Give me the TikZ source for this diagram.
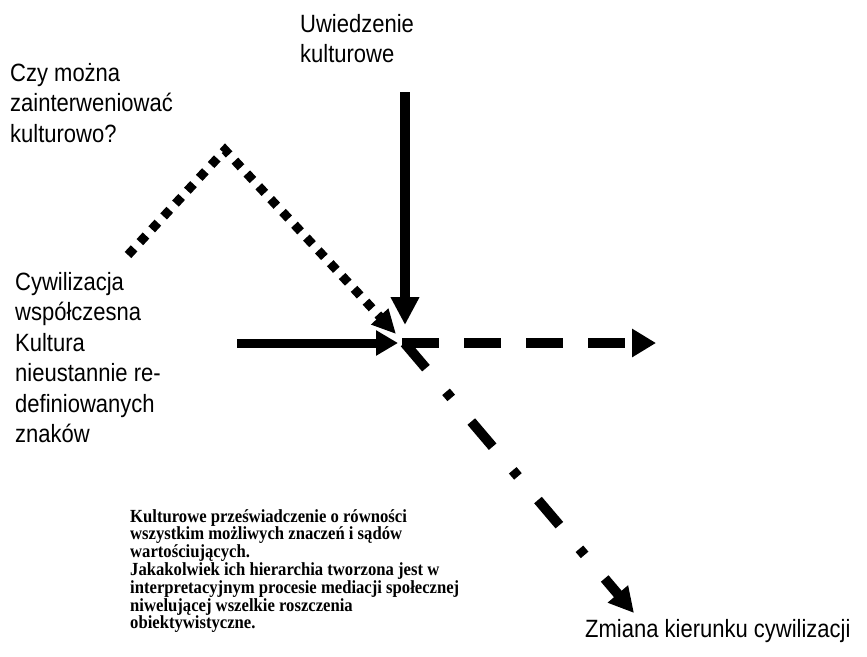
\documentclass[tikz,border=0pt]{standalone}
\usepackage{fontspec}
\setmainfont{Liberation Sans}[FakeStretch=0.88]
\newfontfamily\serifbold{Liberation Serif}[FakeStretch=0.9]
\usetikzlibrary{arrows.meta}
\begin{document}
\begin{tikzpicture}[x=1pt,y=-1pt,
  lab/.style={inner sep=0pt, anchor=north west, align=left,
    font=\fontsize{25}{30.5}\selectfont},
  note/.style={inner sep=0pt, anchor=north west, align=left,
    font=\serifbold\bfseries\fontsize{18.5}{16.6}\selectfont},
  solidarrow/.style={line width=10pt, -{Triangle[length=28pt,width=27pt]}},
  dasharrow/.style={line width=10pt, dash pattern=on 37pt off 25pt,
    -{Triangle[length=24pt,width=27pt]}},
  dotarrow/.style={line width=9pt, dash pattern=on 9pt off 8.5pt, line join=miter,
    -{Triangle[length=24pt,width=22pt]}},
  dashdotarrow/.style={line width=10pt, dash pattern=on 33pt off 31pt on 8pt off 31pt,
    dash phase=99pt, -{Triangle[length=25pt,width=25pt]}},
]
\useasboundingbox (0,0) rectangle (867,656);

% texts
\node[lab] (uw) at (300,14) {Uwiedzenie\\kulturowe};
\node[lab] (czy) at (10,63) {Czy można\\zainterweniować\\kulturowo?};
\node[lab] (cyw) at (15,272) {Cywilizacja\\współczesna\\Kultura\\nieustannie re-\\definiowanych\\znaków};
\node[lab] (zm) at (585,619) {Zmiana kierunku cywilizacji};
\node[note] (kult) at (130,509) {Kulturowe przeświadczenie o równości\\
wszystkim możliwych znaczeń i sądów\\
wartościujących.\\
Jakakolwiek ich hierarchia tworzona jest w\\
interpretacyjnym procesie mediacji społecznej\\
niwelującej wszelkie roszczenia\\
obiektywistyczne.};

% coordinates
\coordinate (vtop) at (405,92);
\coordinate (vtip) at (405,325);
\coordinate (hstart) at (237,343);
\coordinate (htip) at (398,343);
\coordinate (cross) at (402,343);
\coordinate (dtip) at (656,343);
\coordinate (dstart) at (128,255);
\coordinate (peak) at (225,150);
\coordinate (dottip) at (396,334);
\coordinate (cstart) at (402,340);
\coordinate (ctip) at (634,613);

% connectors
\draw[dotarrow] (dstart) -- (peak) -- (dottip);
\draw[solidarrow] (vtop) -- (vtip);
\draw[solidarrow, line width=9pt, -{Triangle[length=22pt,width=24pt]}] (hstart) -- (htip);
\draw[dasharrow] (cross) -- (dtip);
\draw[dashdotarrow] (cstart) -- (ctip);
\end{tikzpicture}
\end{document}
